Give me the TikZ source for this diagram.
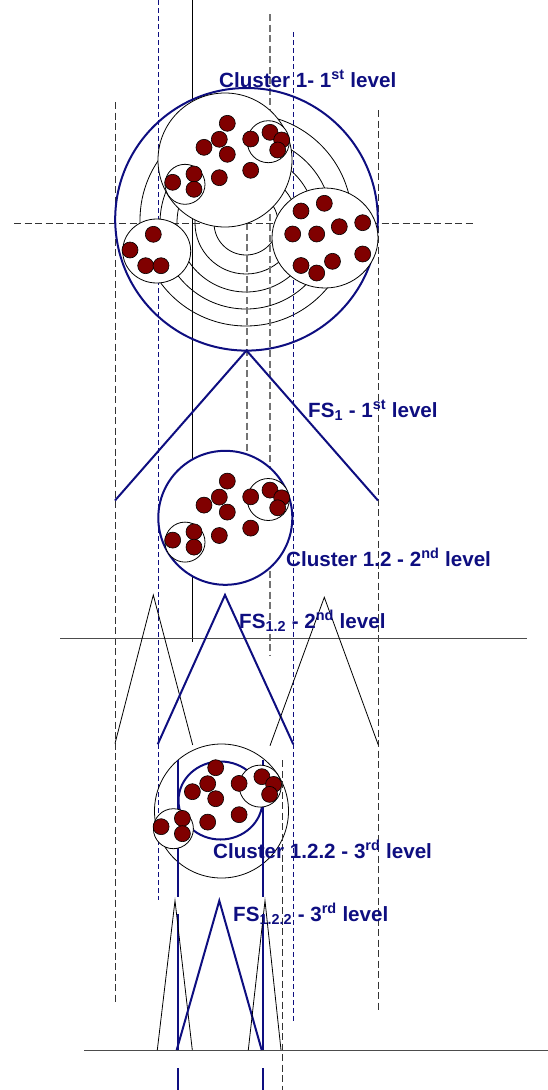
\documentclass[tikz,border=0pt]{standalone}
\usepackage{fontspec}
\setmainfont{Liberation Sans}
\usepackage{tikz}
\usepackage{xcolor}
\definecolor{fsblue}{RGB}{14,14,128}
\definecolor{seedred}{RGB}{128,0,0}

\newcommand{\seedgroup}[1][0]{%
    \draw[ring] (185,184.3) circle (20pt);
    \draw[ring, xshift=#1pt] (268.3,141.7) circle (21pt);
    \foreach \p in {(227.3,123.3),(219.3,139.3),(204,147.3),(227.3,154.3),(250.7,139),(250.7,170.3),(219.3,177.7),(172.7,182.3),(194,174),(194,189.3)}
        \draw[reddot] \p circle (8pt);
    \begin{scope}[xshift=#1pt]
        \foreach \p in {(270,132.3),(281.7,140),(277.7,150)}
            \draw[reddot] \p circle (8pt);
    \end{scope}
}

\begin{document}
\begin{tikzpicture}[x=1pt, y=-1pt,
    thinline/.style={black, line width=0.8pt},
    hline/.style={black!70, line width=0.9pt},
    blackdash/.style={black!80, line width=0.9pt, dash pattern=on 7pt off 3.5pt},
    graydash/.style={black!55, line width=1.4pt, dash pattern=on 7pt off 3.5pt},
    bluedash/.style={fsblue, line width=0.9pt, dash pattern=on 5pt off 3pt},
    bigdash/.style={fsblue, line width=2pt, dash pattern=on 137pt off 17pt},
    fsline/.style={fsblue, line width=2pt},
    ring/.style={draw=black, fill=white, line width=0.8pt},
    reddot/.style={draw=black, fill=seedred, line width=0.6pt},
    lbl/.style={font=\bfseries\fontsize{20.6}{24}\selectfont, text=fsblue, inner sep=0pt, anchor=base west}]
    \useasboundingbox (0,0) rectangle (548,1090);

    \draw[thinline] (246,223) circle (32pt);
    \draw[thinline] (246,223) circle (51pt);
    \draw[thinline] (246,223) circle (69pt);
    \draw[thinline] (246,223) circle (86pt);
    \draw[thinline] (246,220) circle (106pt);

    \draw[blackdash] (115,102) -- (115,1004);
    \draw[bluedash] (158,0) -- (158,900);
    \draw[thinline] (192.5,0) -- (192.5,642);
    \draw[graydash] (247,223) -- (247,452);
    \draw[graydash] (270,14) -- (270,655);
    \draw[bluedash] (293,32) -- (293,1023);
    \draw[blackdash] (378,110) -- (378,1012);
    \draw[blackdash] (14,223) -- (476,223);

    \draw[fsline] (246.5,219.3) circle (131.3pt);
    \draw[ring] (225,160) circle (67pt);
    \draw[ring] (325,238) ellipse [x radius=53pt, y radius=50pt];
    \draw[ring] (156.7,251) ellipse [x radius=34pt, y radius=32pt];
    \seedgroup
    \foreach \p in {(301,211),(324.3,203.3),(292.7,234),(316.7,234),(339.3,226.7),(362.7,222.7),(301,265.5),(316.7,273),(332.5,261.3),(362.7,254)}
        \draw[reddot] \p circle (8pt);
    \foreach \p in {(153.3,234.3),(130,250),(145.7,265.7),(161,265.7)}
        \draw[reddot] \p circle (8pt);

    \draw[fsline] (115,500.5) -- (246.5,350.5) -- (378,500.5);
    \draw[fsline, fill=white] (225.3,517.8) circle (67pt);
    \begin{scope}[shift={(0,357.8)}]
        \seedgroup
    \end{scope}

    \draw[hline] (60,638.5) -- (527,638.5);
    \draw[thinline] (115,743.5) -- (153.3,595) -- (192.7,745);
    \draw[fsline] (157.7,744.3) -- (225,595) -- (293.3,744.3);
    \draw[thinline] (270,745.7) -- (324.3,597.3) -- (378.3,745);

    \draw[thinline] (221.5,811) circle (67pt);
    \draw[fsline] (220.5,800.5) ellipse [x radius=42pt, y radius=39pt];
    \draw[bigdash] (177.5,760) -- (177.5,1090);
    \draw[bigdash] (262.5,760) -- (262.5,1090);
    \draw[blackdash] (282,760) -- (282,1090);
    \begin{scope}[shift={(-11.6,644.4)}]
        \seedgroup[3.5]
    \end{scope}

    \draw[hline] (84,1050) -- (548,1050);
    \draw[thinline] (157.3,1050) -- (175,900.7) -- (192.3,1050);
    \draw[fsline] (176.7,1050) -- (219.3,900.7) -- (261.7,1050);
    \draw[thinline] (248.3,1050) -- (265,900.7) -- (281,1050);

    \node[lbl] (clusterA) at (219,87) {Cluster 1- 1\textsuperscript{st} level};
    \node[lbl] (fsA) at (308,417) {FS\textsubscript{1} - 1\textsuperscript{st} level};
    \node[lbl] (clusterB) at (286,566) {Cluster 1.2 - 2\textsuperscript{nd} level};
    \node[lbl] (fsB) at (239,628) {FS\textsubscript{1.2} - 2\textsuperscript{nd} level};
    \node[lbl] (clusterC) at (213,858) {Cluster 1.2.2 - 3\textsuperscript{rd} level};
    \node[lbl] (fsC) at (233,921) {FS\textsubscript{1.2.2} - 3\textsuperscript{rd} level};
\end{tikzpicture}
\end{document}
